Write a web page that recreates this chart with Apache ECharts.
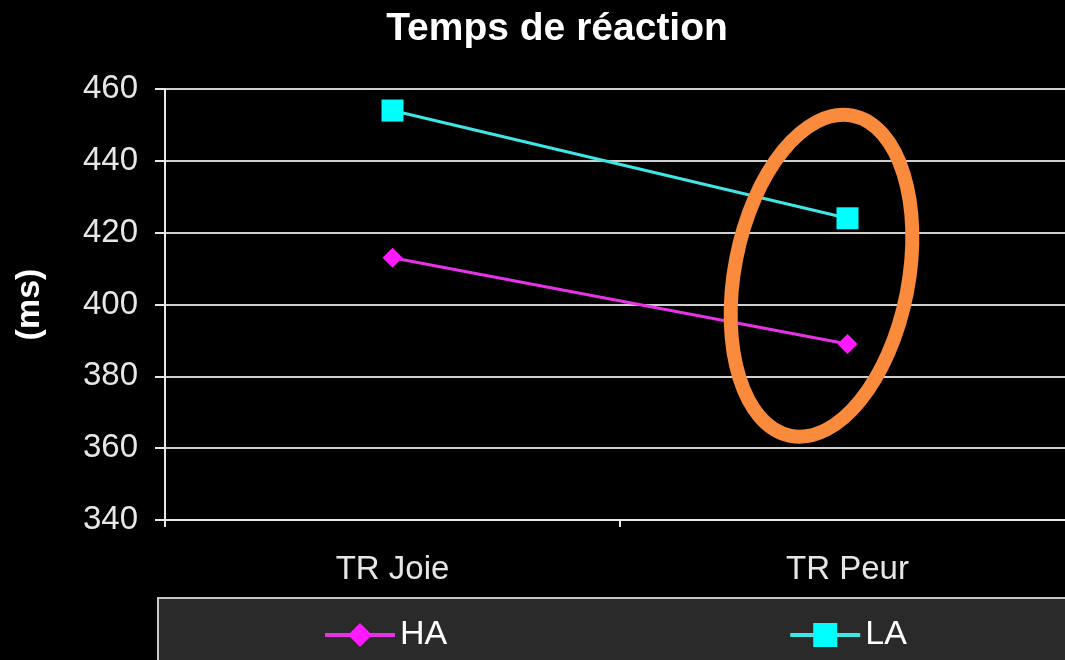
<!DOCTYPE html>
<html>
<head>
<meta charset="utf-8">
<script src="https://cdn.jsdelivr.net/npm/echarts@6/dist/echarts.min.js"></script>
<style>
  html, body { margin: 0; padding: 0; background: #000; }
  #chart { width: 1065px; height: 660px; }
</style>
</head>
<body>
<div id="chart"></div>
<script>
// Reaction times (ms) per condition, for the two groups
const categories = ['TR Joie', 'TR Peur'];
const seriesHA = [413, 389];
const seriesLA = [454, 424];
const yTicks = { min: 340, max: 460, step: 20 };
const titleText = 'Temps de réaction';
const yAxisName = '(ms)';

const FONT = '"Liberation Sans", Arial, sans-serif';
const chart = echarts.init(document.getElementById('chart'), null, { renderer: 'canvas' });

const option = {
  backgroundColor: '#000000',
  animation: false,
  title: {
    text: titleText,
    left: 552,
    textAlign: 'center',
    top: 5,
    textStyle: { color: '#ffffff', fontFamily: FONT, fontWeight: 'bold', fontSize: 39 }
  },
  // plot area runs slightly past the right edge of the canvas
  grid: {
    left: 165, top: 89, height: 431, width: 910,
    containLabel: false,
    outerBoundsMode: 'none'
  },
  xAxis: {
    type: 'category',
    data: categories,
    boundaryGap: true,
    axisLine: { lineStyle: { color: '#e8e8e8', width: 2 } },
    axisTick: { show: true, length: 7, lineStyle: { color: '#e8e8e8', width: 2 } },
    axisLabel: { color: '#e6e6e6', fontFamily: FONT, fontSize: 33, margin: 33 }
  },
  yAxis: {
    type: 'value',
    min: yTicks.min,
    max: yTicks.max,
    interval: yTicks.step,
    name: yAxisName,
    nameLocation: 'middle',
    nameGap: 118,
    nameTextStyle: { color: '#ffffff', fontFamily: FONT, fontWeight: 'bold', fontSize: 34 },
    axisLine: { show: true, lineStyle: { color: '#e8e8e8', width: 2 } },
    axisTick: { show: true, length: 10, lineStyle: { color: '#e8e8e8', width: 2 } },
    axisLabel: { color: '#e6e6e6', fontFamily: FONT, fontSize: 33, margin: 27 },
    splitLine: { show: true, lineStyle: { color: '#cfcfcf', width: 2 } }
  },
  legend: {
    left: 323,
    top: 618,
    padding: 0,
    itemWidth: 70,
    itemHeight: 30,
    itemGap: 341,
    lineStyle: { width: 4 },
    textStyle: { color: '#ffffff', fontFamily: FONT, fontSize: 34 },
    data: ['HA', 'LA']
  },
  graphic: [
    {
      type: 'rect',
      z: -1,
      shape: { x: 158, y: 598, width: 930, height: 80 },
      style: { fill: '#2a2a2a', stroke: '#c8c8c8', lineWidth: 2 }
    }
  ],
  series: [
    {
      name: 'HA',
      type: 'line',
      data: seriesHA,
      symbol: 'diamond',
      symbolSize: 20,
      itemStyle: { color: '#ff1aff' },
      lineStyle: { color: '#e633e6', width: 3 }
    },
    {
      name: 'LA',
      type: 'line',
      data: seriesLA,
      symbol: 'rect',
      symbolSize: 22,
      itemStyle: { color: '#00ffff' },
      lineStyle: { color: '#40e6e6', width: 3 }
    }
  ]
};

chart.setOption(option);

// Highlight ring around the "TR Peur" condition
const centre = chart.convertToPixel({ gridIndex: 0 }, [categories[1], 408]);
chart.setOption({
  graphic: [
    option.graphic[0],
    {
      type: 'ellipse',
      x: centre[0] - 26,
      y: centre[1],
      rotation: -0.19,
      z: 10,
      shape: { cx: 0, cy: 0, rx: 87, ry: 163 },
      style: { fill: null, stroke: '#fa8a3c', lineWidth: 14 }
    }
  ]
});
</script>
</body>
</html>
